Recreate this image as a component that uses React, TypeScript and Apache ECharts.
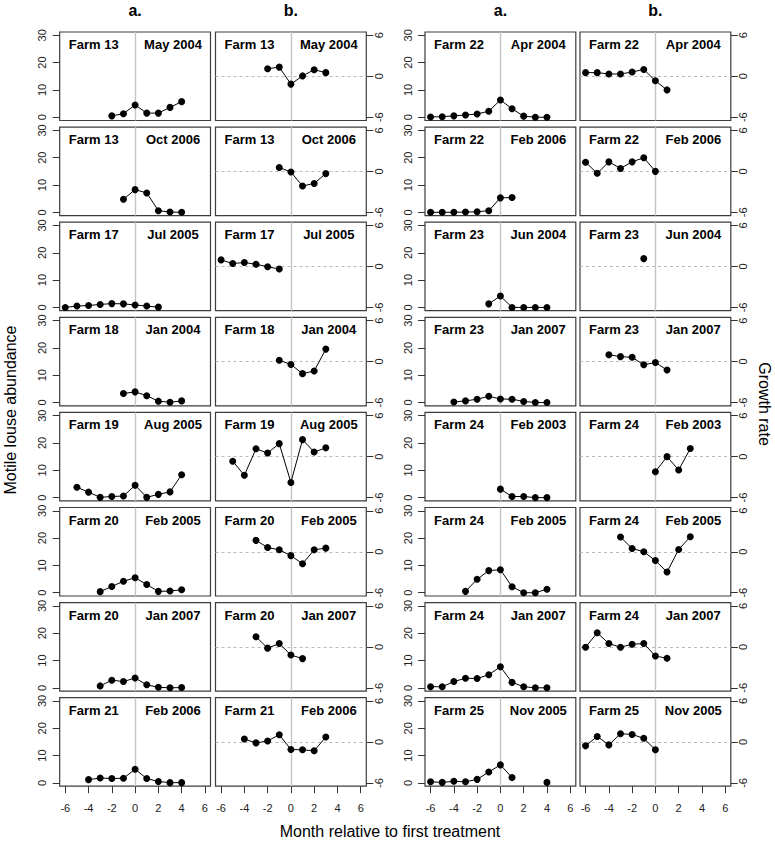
import React, { useEffect, useRef } from "react";
import * as echarts from "echarts";

const _ = null;

// months relative to first treatment (index 0 = -6 ... index 12 = +6)
const months = [-6, -5, -4, -3, -2, -1, 0, 1, 2, 3, 4, 5, 6];
const xTicks = [-6, -4, -2, 0, 2, 4, 6];
const abundanceTicks = [0, 10, 20, 30];
const growthTicks = [-6, 0, 6];
const columnHeaders = ["a.", "b.", "a.", "b."];

const panelFarms = [
  "Farm 13", "Farm 13", "Farm 17", "Farm 18", "Farm 19", "Farm 20", "Farm 20", "Farm 21",
  "Farm 22", "Farm 22", "Farm 23", "Farm 23", "Farm 24", "Farm 24", "Farm 24", "Farm 25",
];
const panelDates = [
  "May 2004", "Oct 2006", "Jul 2005", "Jan 2004", "Aug 2005", "Feb 2005", "Jan 2007", "Feb 2006",
  "Apr 2004", "Feb 2006", "Jun 2004", "Jan 2007", "Feb 2003", "Feb 2005", "Jan 2007", "Nov 2005",
];

// motile louse abundance (a.) and growth rate (b.)
const a13May04 = [_, _, _, _, 0.5, 1.3, 4.5, 1.5, 1.5, 3.6, 5.7, _, _];
const g13May04 = [_, _, _, _, 1.1, 1.34, -1.15, 0.05, 0.96, 0.53, _, _, _];
const a13Oct06 = [_, _, _, _, _, 4.8, 8.3, 7.1, 0.6, 0.1, 0, _, _];
const g13Oct06 = [_, _, _, _, _, 0.57, -0.1, -2.15, -1.77, -0.33, _, _, _];
const a17Jul05 = [0, 0.5, 0.7, 1.1, 1.4, 1.3, 0.9, 0.5, 0.1, _, _, _, _];
const g17Jul05 = [0.96, 0.43, 0.57, 0.33, -0.05, -0.38, _, _, _, _, _, _, _];
const a18Jan04 = [_, _, _, _, _, 3.3, 3.9, 2.5, 0.5, 0.1, 0.6, _, _];
const g18Jan04 = [_, _, _, _, _, 0.19, -0.43, -1.77, -1.39, 1.82, _, _, _];
const a19Aug05 = [_, 3.8, 2.0, 0.1, 0.4, 0.6, 4.5, 0.1, 1.2, 2.1, 8.4, _, _];
const g19Aug05 = [_, -0.67, -2.73, 1.15, 0.53, 1.91, -3.78, 2.49, 0.67, 1.29, _, _, _];
const a20Feb05 = [_, _, _, 0.4, 2.3, 4.2, 5.5, 3.0, 0.5, 0.6, 1.1, _, _];
const g20Feb05 = [_, _, _, 1.67, 0.62, 0.29, -0.57, -1.77, 0.29, 0.53, _, _, _];
const a20Jan07 = [_, _, _, 0.7, 2.8, 2.3, 3.6, 1.1, 0.2, 0, 0.1, _, _];
const g20Jan07 = [_, _, _, 1.48, -0.19, 0.48, -1.2, -1.72, _, _, _, _, _];
const a21Feb06 = [_, _, 1.2, 1.8, 1.6, 1.7, 5.0, 1.6, 0.5, 0.1, 0.1, _, _];
const g21Feb06 = [_, _, 0.43, -0.14, 0.14, 1.05, -1.1, -1.15, -1.29, 0.72, _, _, _];
const a22Apr04 = [0.1, 0.2, 0.5, 0.8, 1.2, 2.2, 6.3, 3.1, 0.4, 0, 0, _, _];
const g22Apr04 = [0.53, 0.53, 0.33, 0.33, 0.62, 1.0, -0.67, -2.0, _, _, _, _, _];
const a22Feb06 = [0, 0, 0, 0.1, 0.2, 0.6, 5.3, 5.4, _, _, _, _, _];
const g22Feb06 = [1.34, -0.29, 1.39, 0.43, 1.39, 2.0, 0, _, _, _, _, _, _];
const a23Jun04 = [_, _, _, _, _, 1.3, 4.2, 0, 0, 0, 0, _, _];
const g23Jun04 = [_, _, _, _, _, 1.15, _, _, _, _, _, _, _];
const a23Jan07 = [_, _, 0.2, 0.6, 1.2, 2.3, 1.3, 1.2, 0.4, 0, 0, _, _];
const g23Jan07 = [_, _, 1.0, 0.72, 0.62, -0.48, -0.14, -1.24, _, _, _, _, _];
const a24Feb03 = [_, _, _, _, _, _, 3.1, 0.4, 0.4, 0, 0, _, _];
const g24Feb03 = [_, _, _, _, _, _, -2.2, 0, -1.96, 1.2, _, _, _];
const a24Feb05 = [_, _, _, 0.5, 4.9, 8.1, 8.4, 2.2, 0, 0, 1.3, _, _];
const g24Feb05 = [_, _, _, 2.15, 0.48, 0, -1.29, -2.97, 0.33, 2.2, _, _, _];
const a24Jan07 = [0.4, 0.4, 2.3, 3.5, 3.4, 4.8, 7.7, 2.0, 0.4, 0, 0, _, _];
const g24Jan07 = [-0.05, 2.06, 0.48, -0.05, 0.38, 0.48, -1.34, -1.67, _, _, _, _, _];
const a25Nov05 = [0.4, 0.2, 0.6, 0.4, 1.3, 4.0, 6.6, 2.0, _, _, 0.2, _, _];
const g25Nov05 = [-0.57, 0.81, -0.43, 1.2, 1.1, 0.53, -1.15, _, _, _, _, _, _];

const abundanceSets = [
  a13May04, a13Oct06, a17Jul05, a18Jan04, a19Aug05, a20Feb05, a20Jan07, a21Feb06,
  a22Apr04, a22Feb06, a23Jun04, a23Jan07, a24Feb03, a24Feb05, a24Jan07, a25Nov05,
];
const growthSets = [
  g13May04, g13Oct06, g17Jul05, g18Jan04, g19Aug05, g20Feb05, g20Jan07, g21Feb06,
  g22Apr04, g22Feb06, g23Jun04, g23Jan07, g24Feb03, g24Feb05, g24Jan07, g25Nov05,
];

// layout
const FONT = "'Liberation Sans', Arial, Helvetica, sans-serif";
const COL_LEFT = [59.7, 215.5, 425, 580];
const PANEL_W = 150.8;
const ROW_TOP0 = 32;
const ROW_PITCH = 95.1;
const PANEL_H = 88.5;
const X_MIN = -6.48, X_MAX = 6.48;
const A_MIN = -1.2, A_MAX = 31.2;
const G_MIN = -6.48, G_MAX = 6.48;

function buildOption() {
  const grid: any[] = [];
  const xAxis: any[] = [];
  const yAxis: any[] = [];
  const series: any[] = [];
  const elements: any[] = [];

  columnHeaders.forEach((h, c) => {
    elements.push({
      type: "text",
      x: COL_LEFT[c] + PANEL_W / 2,
      y: 10,
      style: {
        text: h, fontSize: 16, fontWeight: "bold", fontFamily: FONT, fill: "#000",
        textAlign: "center", textVerticalAlign: "middle", align: "center", verticalAlign: "middle",
      },
    });
  });

  for (let p = 0; p < 16; p++) {
    const half = p < 8 ? 0 : 1;
    const row = p % 8;
    const top = ROW_TOP0 + ROW_PITCH * row;
    const isBottom = row === 7;
    for (let k = 0; k < 2; k++) {
      const col = half * 2 + k;
      const gi = grid.length;
      const left = COL_LEFT[col];
      grid.push({
        left, top, width: PANEL_W, height: PANEL_H,
        show: true, borderColor: "#3c3c3c", borderWidth: 1.2, backgroundColor: "transparent",
        containLabel: false, outerBoundsMode: "none",
      });
      xAxis.push({
        type: "value", gridIndex: gi, min: X_MIN, max: X_MAX, position: "bottom",
        axisLine: { show: false, onZero: false },
        axisTick: { show: isBottom, length: 7, customValues: xTicks, lineStyle: { color: "#333", width: 1 } },
        axisLabel: { show: isBottom, customValues: xTicks, margin: 16, fontSize: 11, color: "#222", fontFamily: FONT },
        splitLine: { show: false },
      });
      if (k === 0) {
        yAxis.push({
          type: "value", gridIndex: gi, position: "left", min: A_MIN, max: A_MAX,
          axisLine: { show: false, onZero: false },
          axisTick: { show: true, length: 7, customValues: abundanceTicks, lineStyle: { color: "#333", width: 1 } },
          axisLabel: { show: true, customValues: abundanceTicks, rotate: 90, margin: 12, fontSize: 11, color: "#222", fontFamily: FONT },
          splitLine: { show: false },
        });
      } else {
        yAxis.push({
          type: "value", gridIndex: gi, position: "right", min: G_MIN, max: G_MAX,
          axisLine: { show: false, onZero: false },
          axisTick: { show: true, length: 7, customValues: growthTicks, lineStyle: { color: "#333", width: 1 } },
          axisLabel: { show: true, customValues: growthTicks, rotate: 90, margin: 7, fontSize: 11, color: "#222", fontFamily: FONT },
          splitLine: { show: false },
        });
      }
      const values = k === 0 ? abundanceSets[p] : growthSets[p];
      const markData: any[] = [
        { xAxis: 0, lineStyle: { color: "#c4c4c4", width: 1.4, type: "solid" } },
      ];
      if (k === 1) {
        markData.push({ yAxis: 0, lineStyle: { color: "#bababa", width: 1.2, type: [3, 3] } });
      }
      series.push({
        type: "line",
        xAxisIndex: gi,
        yAxisIndex: gi,
        data: months.map((m, i) => [m, values[i] === null ? "-" : values[i]]),
        connectNulls: false,
        symbol: "circle",
        symbolSize: 7,
        showSymbol: true,
        showAllSymbol: true,
        itemStyle: { color: "#000" },
        lineStyle: { color: "#000", width: 1 },
        z: 3,
        silent: true,
        markLine: {
          z: 1,
          silent: true,
          symbol: ["none", "none"],
          label: { show: false },
          data: markData,
        },
      });
      // panel labels
      elements.push({
        type: "text",
        x: left + 34,
        y: top + 12.5,
        style: {
          text: panelFarms[p], fontSize: 13, fontWeight: "bold", fontFamily: FONT, fill: "#000",
          textAlign: "center", textVerticalAlign: "middle", align: "center", verticalAlign: "middle",
        },
      });
      elements.push({
        type: "text",
        x: left + 113.3,
        y: top + 12.5,
        style: {
          text: panelDates[p], fontSize: 13, fontWeight: "bold", fontFamily: FONT, fill: "#000",
          textAlign: "center", textVerticalAlign: "middle", align: "center", verticalAlign: "middle",
        },
      });
    }
  }

  elements.push({
    type: "text",
    x: 10,
    y: 410,
    rotation: Math.PI / 2,
    style: {
      text: "Motile louse abundance", fontSize: 16, fontFamily: FONT, fill: "#000",
      textAlign: "center", textVerticalAlign: "middle", align: "center", verticalAlign: "middle",
    },
  });
  elements.push({
    type: "text",
    x: 764,
    y: 404,
    rotation: -Math.PI / 2,
    style: {
      text: "Growth rate", fontSize: 16, fontFamily: FONT, fill: "#000",
      textAlign: "center", textVerticalAlign: "middle", align: "center", verticalAlign: "middle",
    },
  });
  elements.push({
    type: "text",
    x: 390,
    y: 831,
    style: {
      text: "Month relative to first treatment", fontSize: 16, fontFamily: FONT, fill: "#000",
      textAlign: "center", textVerticalAlign: "middle", align: "center", verticalAlign: "middle",
    },
  });

  return {
    animation: false,
    backgroundColor: "#fff",
    textStyle: { fontFamily: FONT },
    grid,
    xAxis,
    yAxis,
    series,
    graphic: { elements },
  };
}

export default function App() {
  const ref = useRef<HTMLDivElement>(null);
  useEffect(() => {
    document.body.style.margin = "0";
    if (!ref.current) return;
    const chart = echarts.init(ref.current, undefined, { renderer: "svg" });
    chart.setOption(buildOption() as any);
    return () => chart.dispose();
  }, []);
  return <div ref={ref} style={{ width: 775, height: 842 }} />;
}
